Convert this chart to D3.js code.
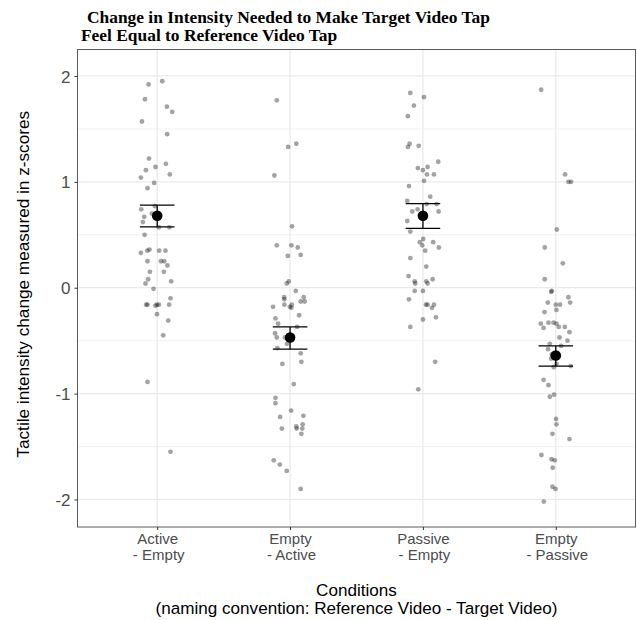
<!DOCTYPE html>
<html>
<head>
<meta charset="utf-8">
<script src="https://cdn.jsdelivr.net/npm/d3@7"></script>
<style>
  html, body { margin: 0; padding: 0; background: #fff; }
  svg { display: block; }
</style>
</head>
<body>
<script>
// Conditions (reference video - target video)
const categories = ["Active - Empty", "Empty - Active", "Passive - Empty", "Empty - Passive"];
const tickLines = [["Active", "- Empty"], ["Empty", "- Active"], ["Passive", "- Empty"], ["Empty", "- Passive"]];
const yTicks = [-2, -1, 0, 1, 2];
const yMinor = [-1.5, -0.5, 0.5, 1.5];

// Per-participant z-score changes: [value, horizontal jitter in category units]
const activeEmpty = [
  [1.92,-0.065],[1.95,0.038],[1.78,-0.092],[1.71,0.073],[1.66,0.113],[1.57,-0.115],[1.45,0.075],
  [1.22,-0.062],[1.17,0.065],[1.14,-0.013],[1.11,-0.085],[1.04,-0.123],[1.07,0.095],[0.99,-0.023],
  [0.94,-0.073],[0.77,-0.017],[0.74,-0.120],[0.70,-0.040],[0.67,-0.098],[0.62,-0.108],[0.57,0.013],
  [0.57,0.092],[0.50,-0.095],[0.36,-0.058],[0.35,-0.075],[0.33,-0.123],[0.35,0.015],[0.35,0.062],
  [0.25,-0.073],[0.25,0.028],[0.25,0.053],[0.21,0.077],[0.15,-0.055],[0.15,0.050],[0.08,-0.068],
  [0.04,-0.088],[0.06,0.105],[-0.01,-0.028],[-0.10,0.100],[-0.16,-0.083],[-0.16,-0.073],[-0.17,-0.013],
  [-0.16,-0.002],[-0.16,0.013],[-0.16,0.090],[-0.25,-0.002],[-0.31,0.083],[-0.45,0.045],[-0.89,-0.073],
  [-1.55,0.100]
];
const emptyActive = [
  [1.77,-0.100],[1.36,0.047],[1.33,-0.015],[1.06,-0.118],[0.58,0.015],[0.40,-0.100],[0.40,0.010],
  [0.38,0.058],[0.30,-0.017],[0.31,0.080],[0.06,-0.010],[0.04,-0.025],[-0.03,0.043],[-0.09,-0.045],
  [-0.09,0.103],[-0.11,-0.043],[-0.13,0.080],[-0.13,0.110],[-0.18,-0.128],[-0.16,-0.043],[-0.16,0.013],
  [-0.18,-0.002],[-0.19,0.010],[-0.26,0.068],[-0.29,-0.110],[-0.34,-0.090],[-0.37,0.053],[-0.43,-0.113],
  [-0.47,-0.100],[-0.47,-0.038],[-0.53,-0.023],[-0.57,-0.095],[-0.62,0.080],[-0.70,0.085],[-0.72,-0.058],
  [-0.91,0.028],[-1.04,-0.110],[-1.09,-0.110],[-1.16,0.008],[-1.22,-0.075],[-1.21,0.100],[-1.33,-0.062],
  [-1.31,0.047],[-1.33,0.050],[-1.29,0.095],[-1.33,0.092],[-1.38,0.085],[-1.63,-0.123],[-1.67,-0.077],
  [-1.73,-0.025],[-1.90,0.080]
];
const passiveEmpty = [
  [1.84,-0.095],[1.80,0.008],[1.72,-0.068],[1.62,-0.113],[1.36,-0.100],[1.33,-0.113],[1.34,-0.032],
  [1.19,0.115],[1.13,-0.038],[1.11,0.000],[1.14,0.035],[1.07,0.030],[1.07,0.083],[1.01,0.008],
  [0.96,-0.105],[0.86,0.055],[0.82,-0.118],[0.74,-0.040],[0.72,-0.080],[0.79,0.028],[0.79,0.103],
  [0.72,0.118],[0.63,-0.118],[0.53,-0.095],[0.46,0.002],[0.43,-0.023],[0.40,-0.005],[0.43,0.077],
  [0.38,0.120],[0.35,0.017],[0.28,-0.095],[0.20,0.025],[0.11,-0.108],[0.06,-0.062],[0.04,-0.058],
  [0.06,0.025],[0.04,0.035],[0.08,0.073],[-0.03,-0.062],[-0.03,0.000],[-0.11,-0.105],[-0.16,0.023],
  [-0.16,0.035],[-0.16,0.083],[-0.19,0.068],[-0.28,0.098],[-0.30,0.000],[-0.37,-0.095],[-0.70,0.092],
  [-0.96,-0.035]
];
const emptyPassive = [
  [1.87,-0.110],[1.07,0.070],[1.00,0.095],[1.00,0.115],[0.55,0.008],[0.38,-0.083],[0.23,0.053],
  [0.08,-0.083],[-0.03,-0.030],[-0.04,-0.035],[-0.09,0.095],[-0.14,0.108],[-0.14,-0.060],[-0.16,0.000],
  [-0.16,0.032],[-0.21,0.005],[-0.23,-0.085],[-0.34,-0.113],[-0.38,-0.092],[-0.33,-0.055],[-0.33,-0.017],
  [-0.34,0.005],[-0.37,0.023],[-0.37,0.068],[-0.42,0.103],[-0.47,0.028],[-0.50,0.088],[-0.53,-0.045],
  [-0.55,0.040],[-0.58,-0.058],[-0.63,-0.030],[-0.67,-0.035],[-0.75,-0.015],[-0.72,0.005],[-0.74,0.113],
  [-0.87,-0.092],[-0.92,-0.055],[-1.03,-0.045],[-1.01,-0.013],[-1.24,0.002],[-1.29,0.005],[-1.38,-0.025],
  [-1.43,0.103],[-1.58,-0.108],[-1.62,-0.032],[-1.63,-0.008],[-1.70,-0.023],[-1.88,-0.025],[-1.90,-0.002],
  [-2.02,-0.090]
];

// Group means with standard-error bounds
const means = [0.68, -0.47, 0.68, -0.64];
const seLow = [0.575, -0.58, 0.56, -0.74];
const seHigh = [0.78, -0.37, 0.795, -0.55];

const seriesByCategory = [activeEmpty, emptyActive, passiveEmpty, emptyPassive];

const W = 637, H = 620;
const panel = { left: 77.5, right: 635.5, top: 49.5, bottom: 527 };
const sans = "Liberation Sans, Arial, sans-serif";

const svg = d3.select("body").append("svg").attr("width", W).attr("height", H);

const x = d3.scalePoint().domain(categories).range([panel.left, panel.right]).padding(0.6);
const y = d3.scaleLinear().domain([-2.26, 2.25]).range([panel.bottom, panel.top]);
const step = x.step();

// panel grid
const grid = svg.append("g");
grid.selectAll("line.minor").data(yMinor).join("line")
  .attr("x1", panel.left).attr("x2", panel.right)
  .attr("y1", d => y(d)).attr("y2", d => y(d))
  .attr("stroke", "#ebebeb").attr("stroke-width", 0.7);
grid.selectAll("line.majorY").data(yTicks).join("line")
  .attr("x1", panel.left).attr("x2", panel.right)
  .attr("y1", d => y(d)).attr("y2", d => y(d))
  .attr("stroke", "#ebebeb").attr("stroke-width", 1.3);
grid.selectAll("line.majorX").data(categories).join("line")
  .attr("x1", d => x(d)).attr("x2", d => x(d))
  .attr("y1", panel.top).attr("y2", panel.bottom)
  .attr("stroke", "#ebebeb").attr("stroke-width", 1.3);

// jittered observations
const pts = svg.append("g");
seriesByCategory.forEach((series, i) => {
  pts.selectAll(null).data(series).join("circle")
    .attr("cx", d => x(categories[i]) + d[1] * step)
    .attr("cy", d => y(d[0]))
    .attr("r", 2.4)
    .attr("fill", "#000")
    .attr("fill-opacity", 0.36);
});

// mean ± SE
const summary = categories.map((c, i) => ({ c, m: means[i], lo: seLow[i], hi: seHigh[i] }));
const capHalf = 0.13 * step;
const eb = svg.append("g").attr("stroke", "#000").attr("stroke-width", 1.3);
eb.selectAll("line.v").data(summary).join("line")
  .attr("x1", d => x(d.c)).attr("x2", d => x(d.c))
  .attr("y1", d => y(d.lo)).attr("y2", d => y(d.hi));
eb.selectAll("line.t").data(summary).join("line")
  .attr("x1", d => x(d.c) - capHalf).attr("x2", d => x(d.c) + capHalf)
  .attr("y1", d => y(d.hi)).attr("y2", d => y(d.hi));
eb.selectAll("line.b").data(summary).join("line")
  .attr("x1", d => x(d.c) - capHalf).attr("x2", d => x(d.c) + capHalf)
  .attr("y1", d => y(d.lo)).attr("y2", d => y(d.lo));
svg.append("g").selectAll("circle").data(summary).join("circle")
  .attr("cx", d => x(d.c)).attr("cy", d => y(d.m)).attr("r", 5.3).attr("fill", "#000");

// panel border
svg.append("rect")
  .attr("x", panel.left).attr("y", panel.top)
  .attr("width", panel.right - panel.left).attr("height", panel.bottom - panel.top)
  .attr("fill", "none").attr("stroke", "#5a5a5a").attr("stroke-width", 1);

// y axis
const yAxis = svg.append("g").attr("transform", `translate(${panel.left},0)`)
  .call(d3.axisLeft(y).tickValues(yTicks).tickSize(3).tickPadding(4).tickFormat(d3.format("d")));
yAxis.select(".domain").remove();
yAxis.selectAll(".tick line").attr("stroke", "#333");
yAxis.selectAll(".tick text")
  .attr("fill", "#4d4d4d").attr("font-family", sans)
  .attr("font-size", 17).attr("dy", "0.36em").text(d => d < 0 ? "-" + Math.abs(d) : d);

// x axis
const xAxis = svg.append("g").attr("transform", `translate(0,${panel.bottom})`)
  .call(d3.axisBottom(x).tickSize(3).tickFormat(""));
xAxis.select(".domain").remove();
xAxis.selectAll(".tick line").attr("stroke", "#333");
xAxis.selectAll(".tick").each(function(d, i) {
  const t = d3.select(this).append("text")
    .attr("fill", "#4d4d4d").attr("font-family", sans)
    .attr("font-size", 15).attr("text-anchor", "middle");
  tickLines[i].forEach((line, k) => {
    t.append("tspan").attr("x", k === 0 ? 0 : 1).attr("y", 16.5 + k * 16).text(line);
  });
});

// axis titles
svg.append("text")
  .attr("transform", `translate(29,${(panel.top + panel.bottom) / 2 - 4}) rotate(-90)`)
  .attr("text-anchor", "middle").attr("font-family", sans)
  .attr("font-size", 17.2).attr("fill", "#000")
  .text("Tactile intensity change measured in z-scores");

const xTitle = svg.append("text").attr("text-anchor", "middle")
  .attr("font-family", sans).attr("font-size", 17.1).attr("fill", "#000");
xTitle.append("tspan").attr("x", (panel.left + panel.right) / 2).attr("y", 596).text("Conditions");
xTitle.append("tspan").attr("x", (panel.left + panel.right) / 2).attr("y", 613.5)
  .text("(naming convention: Reference Video - Target Video)");

// chart title
const title = svg.append("text").attr("font-family", "Liberation Serif, Times New Roman, serif")
  .attr("font-weight", "bold").attr("font-size", 17.4).attr("fill", "#000");
title.append("tspan").attr("x", 87).attr("y", 22.5).text("Change in Intensity Needed to Make Target Video Tap");
title.append("tspan").attr("x", 81).attr("y", 40.5).text("Feel Equal to Reference Video Tap");
</script>
</body>
</html>
